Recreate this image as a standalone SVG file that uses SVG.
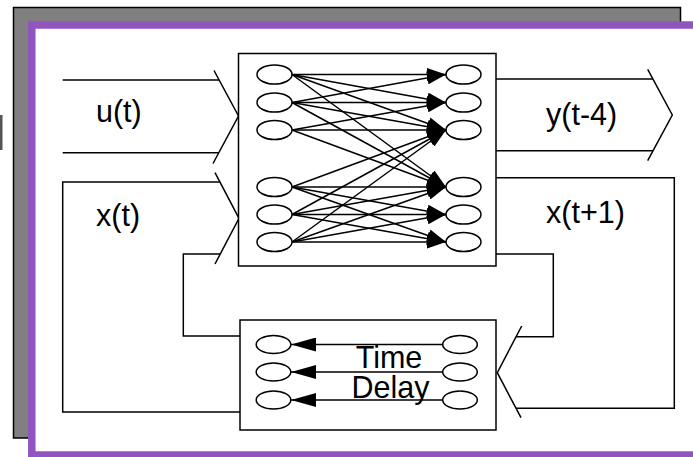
<svg xmlns="http://www.w3.org/2000/svg" width="693" height="457" viewBox="0 0 693 457">
  <style>
    .ln { fill: none; stroke: #000; stroke-width: 1.5; }
    .nd { fill: #fff; stroke: #000; stroke-width: 1.5; }
    .box { fill: #fff; stroke: #000; stroke-width: 1.5; }
    .lbl { font-family: "Liberation Sans", Arial, sans-serif; font-size: 30.5px; fill: #000; }
  </style>
  <defs>
    <marker id="ah" viewBox="0 0 19 13" refX="19" refY="6.5" markerWidth="19" markerHeight="13" markerUnits="userSpaceOnUse" orient="auto">
      <path d="M0,0 L19,6.5 L0,13 z" fill="#000"/>
    </marker>
    <marker id="ahd" viewBox="0 0 25 14" refX="25" refY="7" markerWidth="25" markerHeight="14" markerUnits="userSpaceOnUse" orient="auto">
      <path d="M0,0 L25,7 L0,14 z" fill="#000"/>
    </marker>
  </defs>

  <!-- backdrop: grey shadow panel and purple frame -->
  <rect x="0" y="115" width="2.5" height="35" fill="#555"/>
  <rect x="13.5" y="7.5" width="667" height="430.5" fill="#808080" stroke="#000" stroke-width="1.5"/>
  <rect x="31.8" y="25" width="700" height="430" fill="#fff" stroke="#9155c2" stroke-width="7.5"/>

  <!-- external connectors -->
  <g id="connectors" class="ln">
    <path d="M62.7,80 H219 M62.7,152.7 H218.5"/>
    <path d="M214,70.5 L238.5,116 L213,163.5"/>
    <path d="M220,182 H62.7 V412 H240"/>
    <path d="M220.3,254 H183.3 V336 H240"/>
    <path d="M215,172.7 L239,218.3 L215,264"/>
    <path d="M496,79 H652.9 M496,150.7 H653"/>
    <path d="M647.7,69.3 L672.3,115 L647.7,160.7"/>
    <path d="M496,177.7 H674.3 V408.3 H516"/>
    <path d="M496,254 H553.3 V336.7 H516.1"/>
    <path d="M521.7,326 L497.3,372.7 L521,417.7"/>
  </g>

  <!-- network layer -->
  <g id="network">
    <rect class="box" x="238.5" y="53.5" width="257.5" height="212.5"/>
    <g class="ln" marker-end="url(#ah)">
      <line x1="292" y1="74.5" x2="446" y2="74.5"/>
      <line x1="292" y1="74.5" x2="446" y2="102.5"/>
      <line x1="292" y1="74.5" x2="446" y2="130"/>
      <line x1="292" y1="74.5" x2="446" y2="187"/>
      <line x1="292" y1="102.5" x2="446" y2="74.5"/>
      <line x1="292" y1="102.5" x2="446" y2="102.5"/>
      <line x1="292" y1="102.5" x2="446" y2="130"/>
      <line x1="292" y1="102.5" x2="446" y2="187"/>
      <line x1="292" y1="130" x2="446" y2="102.5"/>
      <line x1="292" y1="130" x2="446" y2="130"/>
      <line x1="292" y1="130" x2="446" y2="187"/>
      <line x1="292" y1="187" x2="446" y2="130"/>
      <line x1="292" y1="187" x2="446" y2="187"/>
      <line x1="292" y1="187" x2="446" y2="214.5"/>
      <line x1="292" y1="187" x2="446" y2="242"/>
      <line x1="292" y1="214.5" x2="446" y2="130"/>
      <line x1="292" y1="214.5" x2="446" y2="187"/>
      <line x1="292" y1="214.5" x2="446" y2="214.5"/>
      <line x1="292" y1="214.5" x2="446" y2="242"/>
      <line x1="292" y1="242" x2="446" y2="130"/>
      <line x1="292" y1="242" x2="446" y2="187"/>
      <line x1="292" y1="242" x2="446" y2="214.5"/>
      <line x1="292" y1="242" x2="446" y2="242"/>
    </g>
    <g id="in-nodes">
      <ellipse class="nd" cx="274.5" cy="74.5" rx="17.5" ry="9.5"/>
      <ellipse class="nd" cx="274.5" cy="102.5" rx="17.5" ry="9.5"/>
      <ellipse class="nd" cx="274.5" cy="130" rx="17.5" ry="9.5"/>
      <ellipse class="nd" cx="274.5" cy="187" rx="17.5" ry="9.5"/>
      <ellipse class="nd" cx="274.5" cy="214.5" rx="17.5" ry="9.5"/>
      <ellipse class="nd" cx="274.5" cy="242" rx="17.5" ry="9.5"/>
    </g>
    <g id="out-nodes">
      <ellipse class="nd" cx="463.5" cy="74.5" rx="17.5" ry="9.5"/>
      <ellipse class="nd" cx="463.5" cy="102.5" rx="17.5" ry="9.5"/>
      <ellipse class="nd" cx="463.5" cy="130" rx="17.5" ry="9.5"/>
      <ellipse class="nd" cx="463.5" cy="187" rx="17.5" ry="9.5"/>
      <ellipse class="nd" cx="463.5" cy="214.5" rx="17.5" ry="9.5"/>
      <ellipse class="nd" cx="463.5" cy="242" rx="17.5" ry="9.5"/>
    </g>
  </g>

  <!-- time delay block -->
  <g id="delay">
    <rect class="box" x="240" y="320" width="256" height="110"/>
    <g class="ln" marker-end="url(#ahd)">
      <line x1="443" y1="344.5" x2="291" y2="344.5"/>
      <line x1="443" y1="372" x2="291" y2="372"/>
      <line x1="443" y1="400" x2="291" y2="400"/>
    </g>
    <ellipse class="nd" cx="273.5" cy="344.5" rx="17.3" ry="9"/>
    <ellipse class="nd" cx="273.5" cy="372" rx="17.3" ry="9"/>
    <ellipse class="nd" cx="273.5" cy="400" rx="17.3" ry="9"/>
    <ellipse class="nd" cx="460" cy="344.5" rx="17.3" ry="9"/>
    <ellipse class="nd" cx="460" cy="372" rx="17.3" ry="9"/>
    <ellipse class="nd" cx="460" cy="400" rx="17.3" ry="9"/>
    <text class="lbl" x="389" y="368" text-anchor="middle">Time</text>
    <text class="lbl" x="390.5" y="397.5" text-anchor="middle">Delay</text>
  </g>

  <!-- signal labels -->
  <g id="labels">
    <text class="lbl" x="96" y="121.5">u(t)</text>
    <text class="lbl" x="96" y="226">x(t)</text>
    <text class="lbl" x="546" y="125">y(t-4)</text>
    <text class="lbl" x="546" y="222.5">x(t+1)</text>
  </g>
</svg>
